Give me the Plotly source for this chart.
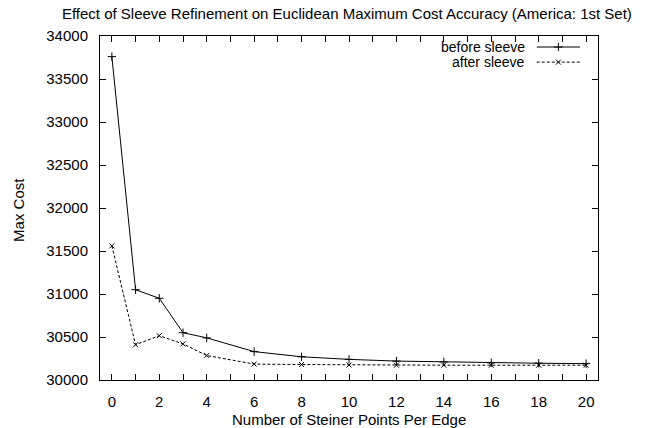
import plotly.graph_objects as go

steiner_points = [0, 1, 2, 3, 4, 6, 8, 10, 12, 14, 16, 18, 20]
before_sleeve = [33760, 31050, 30950, 30550, 30490, 30330, 30270, 30240, 30220, 30210, 30200, 30195, 30190]
after_sleeve = [31560, 30410, 30515, 30420, 30285, 30185, 30180, 30175, 30172, 30172, 30172, 30172, 30172]

x_tick_vals = list(range(0, 21))
x_tick_text = [str(v) if v % 2 == 0 else "" for v in x_tick_vals]
y_tick_vals = list(range(30000, 34001, 500))
y_tick_text = [str(v) for v in y_tick_vals]

font = "Liberation Sans, Arial, Helvetica, sans-serif"
fs = 15

fig = go.Figure()
fig.add_trace(go.Scatter(
    x=steiner_points, y=before_sleeve, mode="lines+markers", name="before sleeve",
    line=dict(color="black", width=1),
    marker=dict(symbol="cross-thin", size=6, line=dict(color="black", width=1)),
    showlegend=False, cliponaxis=False))
fig.add_trace(go.Scatter(
    x=steiner_points, y=after_sleeve, mode="lines+markers", name="after sleeve",
    line=dict(color="black", width=1, dash="3px,2px"),
    marker=dict(symbol="x-thin", size=5, line=dict(color="black", width=1)),
    showlegend=False, cliponaxis=False))

# legend samples (in plot-fraction coordinates on overlay axes)
leg_x = [0.877, 0.964]
leg_y = [0.968, 0.924]
fig.add_trace(go.Scatter(x=leg_x, y=[leg_y[0]] * 2, mode="lines", xaxis="x2", yaxis="y2",
                         line=dict(color="black", width=1), showlegend=False, hoverinfo="skip"))
fig.add_trace(go.Scatter(x=[sum(leg_x) / 2], y=[leg_y[0]], mode="markers", xaxis="x2", yaxis="y2",
                         marker=dict(symbol="cross-thin", size=6, line=dict(color="black", width=1)),
                         showlegend=False, hoverinfo="skip"))
fig.add_trace(go.Scatter(x=leg_x, y=[leg_y[1]] * 2, mode="lines", xaxis="x2", yaxis="y2",
                         line=dict(color="black", width=1, dash="3px,2px"), showlegend=False, hoverinfo="skip"))
fig.add_trace(go.Scatter(x=[sum(leg_x) / 2], y=[leg_y[1]], mode="markers", xaxis="x2", yaxis="y2",
                         marker=dict(symbol="x-thin", size=5, line=dict(color="black", width=1)),
                         showlegend=False, hoverinfo="skip"))

lab_font = dict(size=fs, color="black", family=font)
annotations = [
    dict(text="before sleeve", x=0.858, y=leg_y[0], xref="paper", yref="paper",
         xanchor="right", yanchor="middle", showarrow=False, font=dict(size=14, color="black", family=font)),
    dict(text="after sleeve", x=0.858, y=leg_y[1], xref="paper", yref="paper",
         xanchor="right", yanchor="middle", showarrow=False, font=dict(size=14, color="black", family=font)),
    dict(text="Number of Steiner Points Per Edge", x=0.5, y=-0.116, xref="paper", yref="paper",
         xanchor="center", yanchor="middle", showarrow=False, font=lab_font),
    dict(text="Max Cost", x=-0.165, y=0.494, xref="paper", yref="paper", textangle=-90,
         xanchor="center", yanchor="middle", showarrow=False, font=lab_font),
]

fig.update_layout(
    width=657, height=428,
    margin=dict(l=100, r=59, t=36, b=48),
    paper_bgcolor="white", plot_bgcolor="white",
    font=dict(family=font, size=fs, color="black"),
    title=dict(text="Effect of Sleeve Refinement on Euclidean Maximum Cost Accuracy (America: 1st Set)",
               x=0.528, xanchor="center", y=0.967, yanchor="middle", font=dict(size=fs)),
    annotations=annotations,
    xaxis=dict(range=[-0.5, 20.5], tickvals=x_tick_vals, ticktext=x_tick_text,
               ticks="inside", ticklen=6, tickcolor="black", showline=True, linecolor="black",
               linewidth=1, mirror="allticks", showgrid=False, zeroline=False,
               ticklabelstandoff=8, automargin=False, tickfont=dict(size=fs)),
    yaxis=dict(range=[30000, 34000], tickvals=y_tick_vals, ticktext=y_tick_text,
               ticks="inside", ticklen=6,
               tickcolor="black", showline=True, linecolor="black", linewidth=1,
               mirror="allticks", showgrid=False, zeroline=False,
               ticklabelstandoff=8, automargin=False, tickfont=dict(size=fs)),
    xaxis2=dict(range=[0, 1], overlaying="x", visible=False, domain=[0, 1]),
    yaxis2=dict(range=[0, 1], overlaying="y", visible=False),
)

fig.write_html("out.html")
